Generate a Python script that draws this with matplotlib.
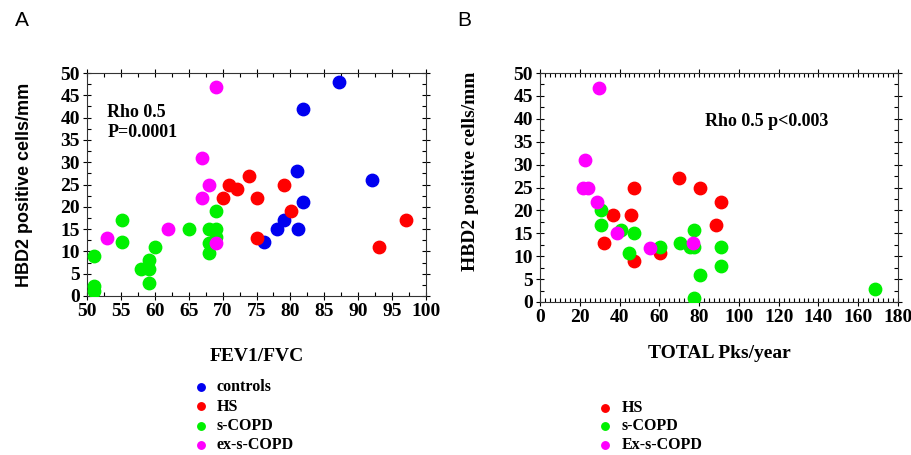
import matplotlib.pyplot as plt
from matplotlib.ticker import MultipleLocator

# Panel A: FEV1/FVC vs HBD2 positive cells/mm
ctrl_x = [87.1, 81.9, 81.0, 92.1, 81.9, 79.0, 78.0, 81.1, 76.1]
ctrl_y = [48, 42, 28, 26, 21, 17, 15, 15, 12]
hs_x = [73.9, 71.0, 72.1, 70.0, 75.0, 79.0, 80.1, 75.0, 97.1, 93.1]
hs_y = [27, 25, 24, 22, 22, 25, 19, 13, 17, 11]
scopd_x = [51.1, 51.1, 51.1, 55.1, 55.1, 58.0, 59.1, 59.1, 59.1, 60.1,
           65.0, 68.0, 69.0, 69.0, 69.0, 68.0, 68.0]
scopd_y = [9, 2.2, 1.1, 17, 12, 6, 6, 8, 3, 11, 15, 15, 15, 19, 13.2, 11.8, 9.6]
exscopd_x = [69.0, 66.9, 68.0, 66.9, 62.0, 53.0, 69.0]
exscopd_y = [46.8, 31, 25, 22, 15, 13, 11.8]

# Panel B: TOTAL Pks/year vs HBD2 positive cells/mm
b_hs_x = [70.1, 80.5, 47.5, 90.8, 36.7, 45.8, 88.6, 32.4, 60.4, 47.5]
b_hs_y = [27, 25, 25, 21.8, 19, 19, 16.8, 12.8, 10.7, 9]
b_scopd_x = [30.7, 30.7, 40.9, 47.5, 44.5, 60.4, 70.5, 77.2, 75.5, 77.2,
             80.2, 77.2, 90.8, 90.8, 168.6]
b_scopd_y = [20, 16.9, 15.8, 15, 10.7, 11.9, 12.8, 15.8, 11.9, 11.9,
             5.8, 0.9, 11.9, 7.9, 2.9]
b_ex_x = [29.5, 22.7, 21.5, 24.0, 28.5, 38.9, 55.5, 76.8]
b_ex_y = [46.7, 30.9, 25, 25, 21.8, 15, 11.8, 12.8]

BLUE = '#0000f0'
RED = '#ff0000'
GREEN = '#00f000'
MAG = '#ff00ff'

serif = 'Liberation Serif'
sans = 'Liberation Sans'
ms = 80

fig = plt.figure(figsize=(9.12, 4.55), dpi=100)
axA = fig.add_axes([87/912, 1 - 296/455, 339/912, 223/455])
axB = fig.add_axes([540/912, 1 - 302/455, 358/912, 229/455])


def style(ax, xmaj, xmin):
    ax.xaxis.set_major_locator(MultipleLocator(xmaj))
    ax.xaxis.set_minor_locator(MultipleLocator(xmin))
    ax.yaxis.set_major_locator(MultipleLocator(5))
    ax.yaxis.set_minor_locator(MultipleLocator(2.5))
    ax.tick_params(which='major', direction='inout', length=6, width=0.8,
                   top=True, right=True, pad=2)
    ax.tick_params(which='minor', direction='in', length=3, width=0.8,
                   top=True, right=True)
    for sp in ax.spines.values():
        sp.set_linewidth(0.8)
        sp.set_color('#333333')
    for lab in ax.get_xticklabels() + ax.get_yticklabels():
        lab.set_fontfamily(serif)
        lab.set_fontweight('bold')
        lab.set_fontsize(14)


# Panel A
axA.scatter(ctrl_x, ctrl_y, s=ms, color=BLUE, label='controls', zorder=3)
axA.scatter(hs_x, hs_y, s=ms, color=RED, label='HS', zorder=3)
axA.scatter(scopd_x, scopd_y, s=ms, color=GREEN, label='s-COPD', zorder=3)
axA.scatter(exscopd_x, exscopd_y, s=ms, color=MAG, label='ex-s-COPD', zorder=3)
axA.set_xlim(50, 100)
axA.set_ylim(0, 50)
style(axA, 5, 2.5)
axA.set_xlabel('FEV1/FVC', fontfamily=serif, fontweight='bold', fontsize=14, labelpad=20)
axA.set_ylabel('HBD2 positive cells/mm', fontfamily=sans, fontweight='bold', fontsize=13, labelpad=20)
axA.text(0.06, 0.86, 'Rho 0.5\nP=0.0001', transform=axA.transAxes,
         fontfamily=serif, fontweight='bold', fontsize=13, va='top', linespacing=1.2)
legA = axA.legend(loc='upper left', bbox_to_anchor=(0.27, -0.345), frameon=False,
                  prop={'family': serif, 'weight': 'bold', 'size': 11.5},
                  handletextpad=0.0, labelspacing=0.2, borderaxespad=0,
                  markerscale=0.6)
fig.text(15/912, 1 - 20/455, 'A', fontfamily=sans, fontsize=15, va='center')

# Panel B
axB.scatter(b_hs_x, b_hs_y, s=ms, color=RED, label='HS', zorder=3)
axB.scatter(b_scopd_x, b_scopd_y, s=ms, color=GREEN, label='s-COPD', zorder=3)
axB.scatter(b_ex_x, b_ex_y, s=ms, color=MAG, label='Ex-s-COPD', zorder=3)
axB.set_xlim(0, 180)
axB.set_ylim(0, 50)
style(axB, 20, 2.5)
axB.set_xlabel('TOTAL Pks/year', fontfamily=serif, fontweight='bold', fontsize=14, labelpad=14)
axB.set_ylabel('HBD2 positive cells/mm', fontfamily=serif, fontweight='bold', fontsize=14)
axB.yaxis.set_label_coords(-0.17, 0.57)
axB.text(0.46, 0.79, 'Rho 0.5 p<0.003', transform=axB.transAxes,
         fontfamily=serif, fontweight='bold', fontsize=13, va='center')
legB = axB.legend(loc='upper left', bbox_to_anchor=(0.12, -0.4), frameon=False,
                  prop={'family': serif, 'weight': 'bold', 'size': 11.5},
                  handletextpad=0.0, labelspacing=0.15, borderaxespad=0,
                  markerscale=0.6)
fig.text(457/912, 1 - 20/455, 'B', fontfamily=sans, fontsize=15, va='center')

fig.savefig('out.png', dpi=100)
